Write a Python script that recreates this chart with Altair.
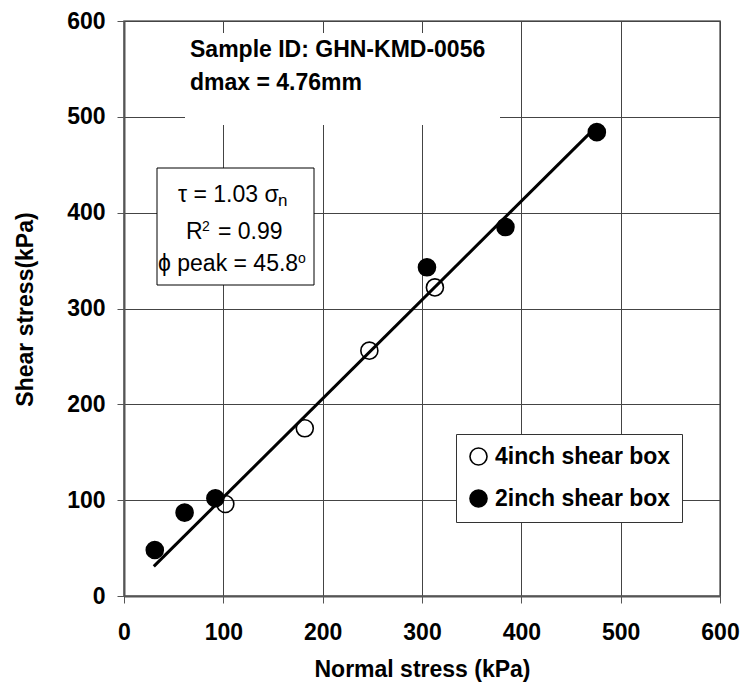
import altair as alt
import pandas as pd

FONT = "Liberation Sans"

# ---- data ----
series_names = ["4inch shear box", "2inch shear box"]
normal_4in = [102, 182, 247, 313]
shear_4in = [96, 175, 256, 322]
normal_2in = [31, 61, 92, 305, 384, 476]
shear_2in = [48, 87, 102, 343, 385, 484]
fit_slope = 1.03
fit_normal = [30, 470]
axis_ticks = [0, 100, 200, 300, 400, 500, 600]
sample_lines = ["Sample ID: GHN-KMD-0056", "dmax = 4.76mm"]

pts = pd.DataFrame({
    "normal": normal_4in + normal_2in,
    "shear": shear_4in + shear_2in,
    "series": [series_names[0]] * len(normal_4in) + [series_names[1]] * len(normal_2in),
})
fit = pd.DataFrame({"normal": fit_normal, "shear": [fit_slope * v for v in fit_normal]})
one = pd.DataFrame({"k": [0]})

x_enc = alt.X("normal:Q", scale=alt.Scale(domain=[0, 600], nice=False, zero=False),
              axis=alt.Axis(values=axis_ticks, title="Normal stress (kPa)", labelFlush=False,
                            labelPadding=18, titleY=80, titleBaseline="alphabetic"))
y_enc = alt.Y("shear:Q", scale=alt.Scale(domain=[0, 600], nice=False, zero=False),
              axis=alt.Axis(values=axis_ticks, title="Shear stress(kPa)", labelPadding=12,
                            titleX=-99, titleY=288, titleAngle=270, titleBaseline="middle",
                            titleAlign="center"))

points = alt.Chart(pts).mark_point(shape="circle", filled=True, size=290, stroke="black",
                                   strokeWidth=1.6, opacity=1).encode(
    x=x_enc, y=y_enc,
    fill=alt.Fill("series:N", scale=alt.Scale(domain=series_names, range=["transparent", "black"]),
                  legend=alt.Legend(title=None, orient="none", legendX=332, legendY=413,
                                    fillColor="white", strokeColor="#333", padding=11,
                                    labelFontSize=23, labelFontWeight="bold", labelFont=FONT,
                                    labelColor="black", labelLimit=400, symbolSize=290,
                                    symbolType="circle", symbolStrokeColor="black",
                                    symbolStrokeWidth=1.6, rowPadding=17, labelOffset=5)),
)

line = alt.Chart(fit).mark_line(color="black", strokeWidth=3).encode(x="normal:Q", y="shear:Q")


def box(x1, x2, y1, y2, stroke=None):
    kw = dict(fill="white")
    if stroke:
        kw.update(stroke=stroke, strokeWidth=1)
    return alt.Chart(one).mark_rect(**kw).encode(
        x=alt.value(x1), x2=alt.value(x2), y=alt.value(y1), y2=alt.value(y2))


def txt(s, x, y, size=23, weight="bold"):
    return alt.Chart(one).mark_text(text=s, align="left", baseline="alphabetic", fontSize=size,
                                    fontWeight=weight, font=FONT, color="black").encode(
        x=alt.value(x), y=alt.value(y))


layers = [
    points, line,
    box(61, 376, 12, 104),
    txt(sample_lines[0], 66, 36),
    txt(sample_lines[1], 66, 69),
    box(33, 190, 147, 264, stroke="black"),
    txt("τ = 1.03 σ", 54, 181, weight="normal"),
    txt("n", 154, 185, size=17, weight="normal"),
    txt("R", 62, 218, weight="normal"),
    txt("2", 78, 210, size=14, weight="normal"),
    txt("= 0.99", 94, 218, weight="normal"),
    txt("ϕ peak = 45.8", 34, 250, weight="normal"),
    txt("o", 174, 242, size=14, weight="normal"),
]

chart = alt.layer(*layers).properties(
    width=596, height=575, autosize="none",
    padding={"left": 116, "top": 13, "right": 20, "bottom": 88},
).configure_view(stroke="#666", strokeWidth=1.5).configure_axis(
    labelFont=FONT, titleFont=FONT, labelFontSize=23, titleFontSize=23,
    labelFontWeight="bold", titleFontWeight="bold", labelColor="black", titleColor="black",
    tickSize=7, tickColor="#555", domainColor="#555", domainWidth=2,
    grid=True, gridColor="#444", gridWidth=1, gridOpacity=1, labelOverlap=False,
)

chart.save("out.html", embed_options={"renderer": "svg", "actions": False})
